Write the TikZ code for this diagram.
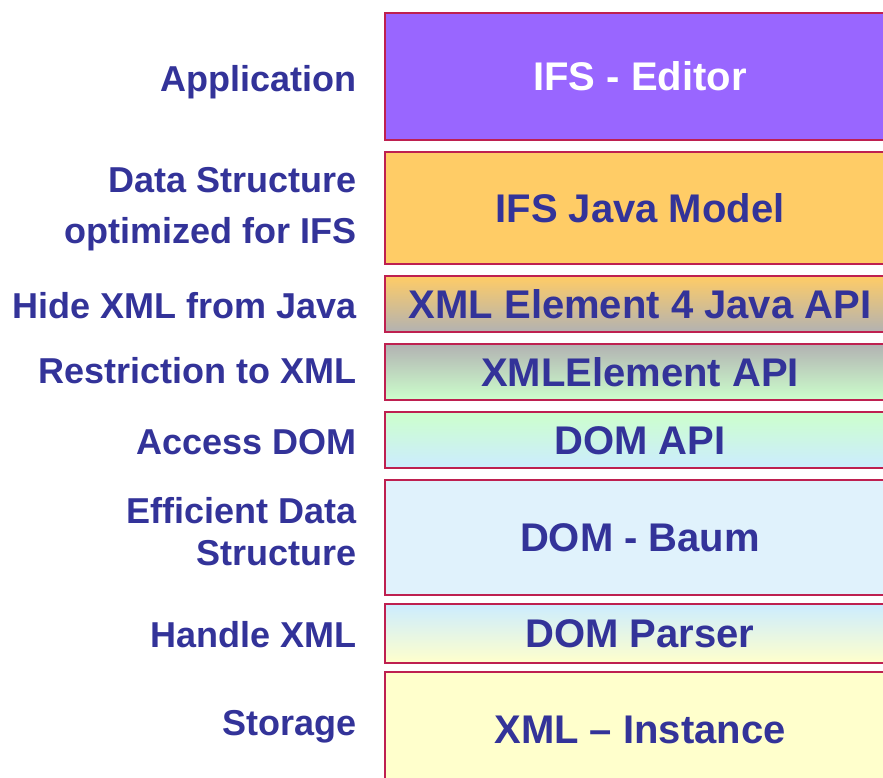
\documentclass[tikz,border=0pt]{standalone}
\usepackage{fontspec}
\setmainfont{Liberation Sans}
\definecolor{ink}{HTML}{333399}
\definecolor{edge}{HTML}{BE2050}
\definecolor{violet}{HTML}{9966FF}
\definecolor{amber}{HTML}{FFCC66}
\definecolor{stone}{HTML}{B2B2B2}
\definecolor{mint}{HTML}{CCFFCC}
\definecolor{sky}{HTML}{CCECFF}
\definecolor{mist}{HTML}{E0F2FC}
\definecolor{cream}{HTML}{FFFFCC}
\tikzset{
  layer/.style={draw=edge, line width=1.5pt, rectangle, minimum width=510pt,
    inner sep=0pt, text=ink, font=\fontsize{40}{48}\selectfont\bfseries,
    text height=28.6pt, text depth=0pt},
  role/.style={anchor=base east, inner sep=0pt, text=ink,
    font=\fontsize{36}{44}\selectfont\bfseries},
}
\begin{document}
\begin{tikzpicture}[x=1pt, y=-1pt]
  \useasboundingbox (0,0) rectangle (883,778);
  \clip (0,0) rectangle (883,778);
  \fill[white] (0,0) rectangle (883,778);

  % layer stack
  \node[layer, fill=violet, text=white, minimum height=127pt] (editor) at (640,76.5) {IFS - Editor};
  \node[layer, fill=amber, minimum height=112pt] (model) at (640,208) {IFS Java Model};
  \node[layer, top color=amber, bottom color=stone, minimum height=56pt] (j4api) at (640,304) {XML Element 4 Java API};
  \node[layer, top color=stone, bottom color=mint, minimum height=56pt] (xeapi) at (640,372) {XMLElement API};
  \node[layer, top color=mint, bottom color=sky, minimum height=56pt] (domapi) at (640,440) {DOM API};
  \node[layer, fill=mist, minimum height=115pt] (tree) at (640,537.5) {DOM - Baum};
  \node[layer, top color=sky, bottom color=cream, minimum height=59pt] (parser) at (640,633.5) {DOM Parser};
  \node[layer, fill=cream, minimum height=114pt] (inst) at (640,729) {XML – Instance};

  % roles of the layers
  \node[role] (rApp) at (357,92) {Application};
  \node[role] (rData1) at (357,193) {Data Structure};
  \node[role] (rData2) at (357,243) {optimized for IFS};
  \node[role] (rHide) at (357,318) {Hide XML from Java};
  \node[role] (rRestr) at (357,383) {Restriction to XML};
  \node[role] (rAccess) at (357,454) {Access DOM};
  \node[role] (rEff1) at (357,523) {Efficient Data};
  \node[role] (rEff2) at (357,565) {Structure};
  \node[role] (rHandle) at (357,647) {Handle XML};
  \node[role] (rStore) at (357,735) {Storage};
\end{tikzpicture}
\end{document}
